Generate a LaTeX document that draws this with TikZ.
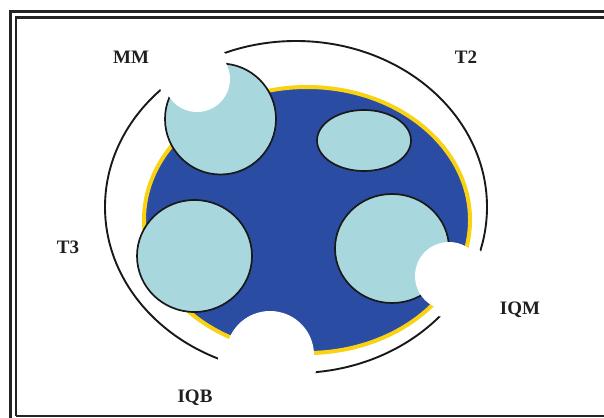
\documentclass[tikz,border=0pt]{standalone}
\usepackage{fontspec}
\setmainfont{Liberation Serif}
\definecolor{discblue}{RGB}{42,76,162}
\definecolor{rimyellow}{RGB}{250,210,20}
\definecolor{padcyan}{RGB}{168,216,221}
\definecolor{framegray}{RGB}{35,35,35}
\tikzset{
  framestroke/.style={draw=framegray, line width=2.6pt},
  pad/.style={fill=padcyan, draw=black!90, line width=1.7pt},
  cutout/.style={fill=white, draw=none},
  lbl/.style={font=\fontsize{19}{21}\selectfont\bfseries, text=black!88, inner sep=0pt}
}
\begin{document}
\begin{tikzpicture}[x=1pt,y=-1pt]
\useasboundingbox (0,0) rectangle (604,417);
\fill[white] (0,0) rectangle (604,417);
% frame
\draw[framestroke, line width=3pt] (10.5,440) -- (10.5,12) -- (640,12);
\draw[framestroke] (15.8,416) -- (15.8,17.5) -- (640,17.5);
\draw[framestroke] (15.8,416) -- (640,416);
% outer ring
\draw[black!90, line width=1.9pt] (296,207) ellipse [x radius=191, y radius=166];
% gaps in the ring
\fill[white] (197,79) circle [radius=38];
\fill[white] (451,278) circle [radius=40];
\fill[white] (268,357) circle [radius=50];
% disc
\filldraw[fill=discblue, draw=rimyellow, line width=4pt] (307,220) ellipse [x radius=163, y radius=133];
% pads
\draw[pad] (220.5,119) circle [radius=55.5];
\draw[pad] (364,140.5) ellipse [x radius=47, y radius=30.5];
\draw[pad] (194.5,256) ellipse [x radius=57.5, y radius=56];
\draw[pad] (392,248.5) ellipse [x radius=57, y radius=54.5];
% cut-outs
\fill[cutout] (197,79) circle [radius=33];
\fill[cutout] (449,276) circle [radius=34];
\fill[cutout] (270,355) circle [radius=44];
% labels
\node[lbl] (mm)  at (131,57)  {MM};
\node[lbl] (t2)  at (466,57)  {T2};
\node[lbl] (t3)  at (68,247)  {T3};
\node[lbl] (iqm) at (520,310) {IQM};
\node[lbl] (iqb) at (195,398) {IQB};
\end{tikzpicture}
\end{document}
